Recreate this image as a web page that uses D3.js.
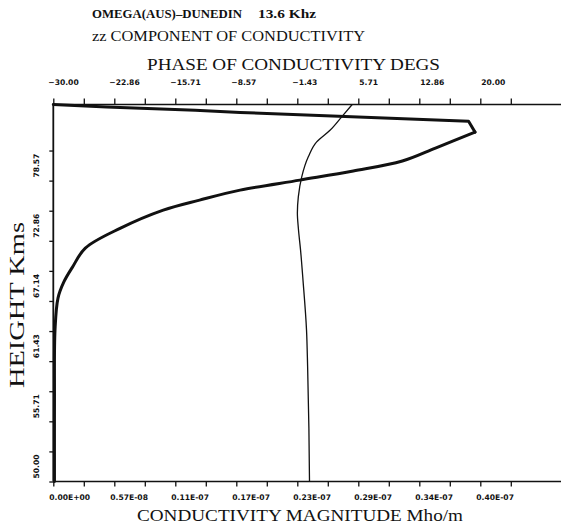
<!DOCTYPE html>
<html>
<head>
<meta charset="utf-8">
<title>zz component of conductivity</title>
<script src="https://d3js.org/d3.v7.min.js"></script>
<style>
    body { margin: 0; background: #fff; }
    svg { display: block; background: #fff; }
    .tick-label { font: bold 7.6px "DejaVu Sans", sans-serif; fill: #111; }
    .title { font-family: "Liberation Serif", "Times New Roman", serif; fill: #111; }
</style>
</head>
<body>
<svg id="chart" width="561" height="528"></svg>
<script>
    'use strict';

    // heights (km) and conductivity magnitude (units of 1E-08 Mho/m), thick curve
    const magHeights = [85.8, 85.57, 85.26, 85.04, 84.22, 83.18, 81.66, 80.43, 79.48, 78.62,
        77.67, 76.72, 75.77, 74.06, 72.16, 70.36, 68.97, 67.42, 64.38, 57.74, 50.0];
    const magnitude = [0.0, 0.50, 1.33, 1.75, 3.89, 3.95, 3.58, 3.27, 2.81, 2.31,
        1.75, 1.37, 1.03, 0.63, 0.30, 0.18, 0.10, 0.044, 0.016, 0.011, 0.011];
    const peakIndex = 5;

    // heights (km) and phase (degrees), thin curve
    const phaseHeights = [85.8, 84.63, 83.35, 82.25, 80.83, 78.93, 77.03, 75.5, 74.0, 72.0,
        69.1, 64.4, 60.9, 55.0, 50.0];
    const phase = [5.0, 3.77, 2.40, 0.84, -0.14, -0.91, -1.31, -1.42, -1.30, -1.05,
        -0.76, -0.35, -0.22, -0.07, 0.0];

    const magTickLabels = ["0.00E+00", "0.57E-08", "0.11E-07", "0.17E-07",
        "0.23E-07", "0.29E-07", "0.34E-07", "0.40E-07"];
    const phaseTickLabels = ["\u221230.00", "\u221222.86", "\u221215.71", "\u22128.57",
        "\u22121.43", "5.71", "12.86", "20.00"];
    const heightTickLabels = ["50.00", "55.71", "61.43", "67.14", "72.86", "78.57"];

    const W = 561, H = 528;
    const plotL = 53.3, plotR = 480.3, plotT = 104.5, plotB = 481.5;

    const x = d3.scaleLinear().domain([0, 4]).range([plotL, plotR]);      // magnitude, 1E-08
    const xp = d3.scaleLinear().domain([-30, 20]).range([plotL, plotR]);  // phase, degs
    const y = d3.scaleLinear().domain([50, 85.8]).range([plotB, plotT]);  // height, km

    const svg = d3.select("#chart");

    // axes: ticks only, lines drawn separately so they run to the right edge
    const magTicks = d3.range(16).map(i => i * 4 / 14);
    const phaseTicks = d3.range(16).map(i => -30 + i * 50 / 14);
    const heightTicks = d3.range(12).map(i => 50 + i * 40 / 14);

    const axisStyle = g => {
        g.select(".domain").remove();
        g.selectAll(".tick line").attr("stroke", "#111").attr("stroke-width", 1.3);
    };

    svg.append("g")
        .attr("transform", `translate(0,${plotT})`)
        .call(d3.axisTop(xp).tickValues(phaseTicks).tickSize(6).tickFormat(""))
        .call(axisStyle);

    svg.append("g")
        .attr("transform", `translate(0,${plotB})`)
        .call(d3.axisBottom(x).tickValues(magTicks).tickSize(5).tickFormat(""))
        .call(axisStyle);

    svg.append("g")
        .attr("transform", `translate(${plotL},0)`)
        .call(d3.axisLeft(y).tickValues(heightTicks).tickSize(4).tickFormat(""))
        .call(axisStyle);

    svg.append("line")
        .attr("x1", plotL).attr("x2", W).attr("y1", plotT).attr("y2", plotT)
        .attr("stroke", "#111").attr("stroke-width", 1.6);
    svg.append("line")
        .attr("x1", plotL).attr("x2", W).attr("y1", plotB).attr("y2", plotB)
        .attr("stroke", "#111").attr("stroke-width", 1.3);
    svg.append("line")
        .attr("x1", plotL).attr("x2", plotL).attr("y1", plotT).attr("y2", plotB)
        .attr("stroke", "#111").attr("stroke-width", 1.8);

    // tick labels
    svg.selectAll(".phase-label")
        .data(phaseTickLabels)
        .join("text")
        .attr("class", "tick-label")
        .attr("x", (d, i) => xp(-30 + i * 50 / 7) + (d.startsWith("\u2212") ? -5 : 1))
        .attr("y", 85)
        .text(d => d);

    svg.selectAll(".mag-label")
        .data(magTickLabels)
        .join("text")
        .attr("class", "tick-label")
        .attr("x", (d, i) => x(i * 4 / 7) - 4)
        .attr("y", 500)
        .text(d => d);

    svg.selectAll(".height-label")
        .data(heightTickLabels)
        .join("text")
        .attr("class", "tick-label")
        .attr("transform", (d, i) => `translate(39,${y(50 + i * 40 / 7) - 3}) rotate(-90)`)
        .text(d => d);

    // curves
    const magPoints = d3.zip(magHeights, magnitude);

    // straight segments over the top and round the peak, smooth below it
    const magLineTop = d3.line()
        .x(d => x(d[1]))
        .y(d => y(d[0]))
        .curve(d3.curveLinear);

    const magLineLow = d3.line()
        .x(d => x(d[1]))
        .y(d => y(d[0]))
        .curve(d3.curveCatmullRom.alpha(0.5));

    const phaseLine = d3.line()
        .x(d => xp(d[1]))
        .y(d => y(d[0]))
        .curve(d3.curveMonotoneY);

    svg.append("path")
        .datum(magPoints.slice(0, peakIndex + 1))
        .attr("fill", "none")
        .attr("stroke", "#111")
        .attr("stroke-width", 3)
        .attr("stroke-linejoin", "round")
        .attr("stroke-linecap", "round")
        .attr("d", magLineTop);

    svg.append("path")
        .datum(magPoints.slice(peakIndex))
        .attr("fill", "none")
        .attr("stroke", "#111")
        .attr("stroke-width", 3)
        .attr("stroke-linecap", "round")
        .attr("d", magLineLow);

    svg.append("path")
        .datum(d3.zip(phaseHeights, phase))
        .attr("fill", "none")
        .attr("stroke", "#111")
        .attr("stroke-width", 1.3)
        .attr("d", phaseLine);

    // titles
    svg.append("text").attr("class", "title")
        .attr("x", 92).attr("y", 18)
        .attr("font-size", 11.5).attr("font-weight", "bold")
        .attr("textLength", 150).attr("lengthAdjust", "spacingAndGlyphs")
        .text("OMEGA(AUS)\u2013DUNEDIN");
    svg.append("text").attr("class", "title")
        .attr("x", 258).attr("y", 18)
        .attr("font-size", 11.5).attr("font-weight", "bold")
        .attr("textLength", 58).attr("lengthAdjust", "spacingAndGlyphs")
        .text("13.6 Khz");
    svg.append("text").attr("class", "title")
        .attr("x", 92).attr("y", 41)
        .attr("font-size", 15)
        .attr("textLength", 273).attr("lengthAdjust", "spacingAndGlyphs")
        .text("zz COMPONENT OF CONDUCTIVITY");
    svg.append("text").attr("class", "title")
        .attr("x", 147).attr("y", 70)
        .attr("font-size", 17.5)
        .attr("textLength", 293).attr("lengthAdjust", "spacingAndGlyphs")
        .text("PHASE OF CONDUCTIVITY DEGS");
    svg.append("text").attr("class", "title")
        .attr("x", 137).attr("y", 521)
        .attr("font-size", 17.5)
        .attr("textLength", 326).attr("lengthAdjust", "spacingAndGlyphs")
        .text("CONDUCTIVITY MAGNITUDE Mho/m");
    svg.append("text").attr("class", "title")
        .attr("transform", "translate(24,388) rotate(-90)")
        .attr("font-size", 20)
        .attr("textLength", 166).attr("lengthAdjust", "spacingAndGlyphs")
        .text("HEIGHT Kms");
</script>
</body>
</html>
